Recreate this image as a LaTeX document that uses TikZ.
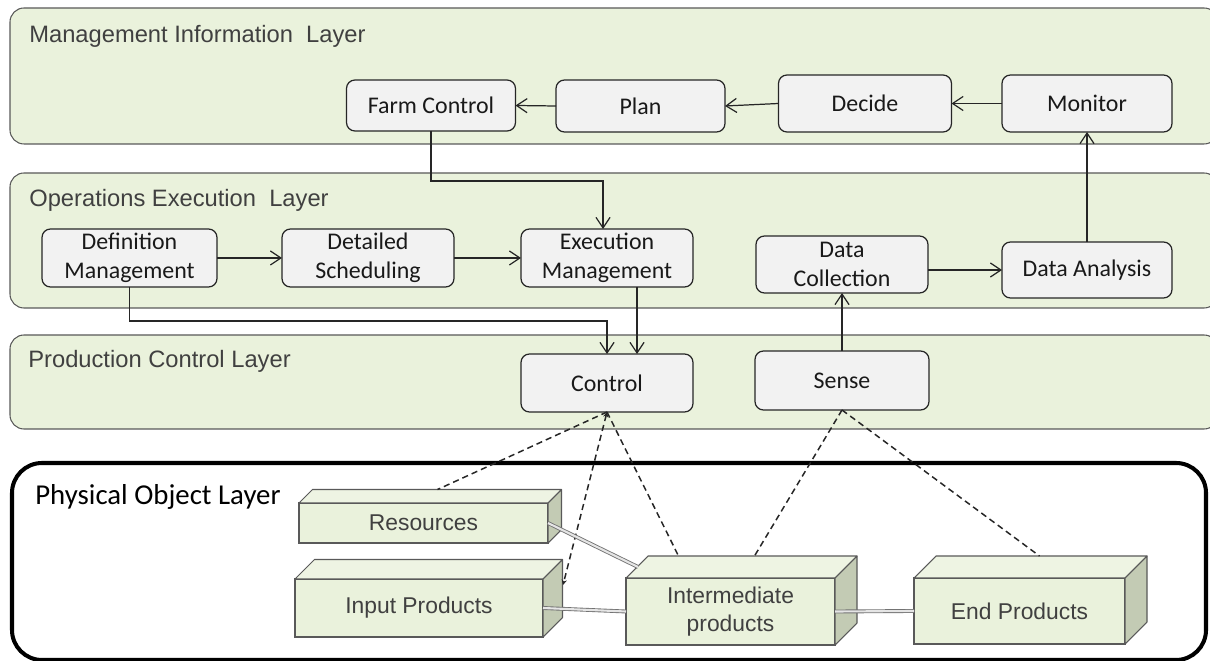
\documentclass[tikz,border=0pt]{standalone}
\usepackage{fontspec}
\setmainfont{Liberation Sans}
\newfontfamily\calibri{Carlito}
\usetikzlibrary{arrows.meta,calc}
\definecolor{layergreen}{HTML}{EAF2DC}
\definecolor{nodegray}{HTML}{F2F2F2}
\definecolor{edgegray}{HTML}{595959}
\definecolor{txtgray}{HTML}{404040}
\definecolor{sidegreen}{HTML}{C3CBB4}
\definecolor{topgreen}{HTML}{EEF4E3}
\newcommand\drawcuboid[7]{%
  \node[cubefront, sz={#4}{#5}] (#1) at (#2,#3) {#7};
  \filldraw[cubetop] (#1.north west) -- ++(#6,-#6) -- ([shift={(#6,-#6)}]#1.north east) -- (#1.north east) -- cycle;
  \filldraw[cubeside] (#1.north east) -- ++(#6,-#6) -- ([shift={(#6,-#6)}]#1.south east) -- (#1.south east) -- cycle;
}
\begin{document}
\begin{tikzpicture}[x=0.02cm,y=-0.02cm,
  sz/.style 2 args={minimum width=#1*0.02cm, minimum height=#2*0.02cm},
  layer/.style={draw=edgegray, fill=layergreen, line width=0.6pt, rounded corners=0.28cm},
  layerlabel/.style={anchor=base west, text=txtgray, inner sep=0, font=\fontsize{13.5}{16}\selectfont},
  proc/.style={draw=black!85, fill=nodegray, line width=0.7pt, rounded corners=0.17cm,
    font=\calibri\fontsize{13.6}{16.4}\selectfont, align=center, inner sep=0, outer sep=0, text=black!90},
  flow/.style={draw=black!85, line width=0.7pt, -{Straight Barb[length=6pt,width=8pt]}},
  dashline/.style={draw=black!85, line width=0.85pt, dash pattern=on 3.5pt off 2.3pt},
  cubefront/.style={draw=edgegray, fill=layergreen, line width=0.6pt, inner sep=0, outer sep=0,
    text=txtgray, align=center, font=\fontsize{13}{16}\selectfont},
  cubetop/.style={draw=edgegray, fill=topgreen, line width=0.6pt, line join=round},
  cubeside/.style={draw=edgegray, fill=sidegreen, line width=0.6pt, line join=round},
  dbl/.style={draw=black!55, double=white!90!black, line width=0.5pt, double distance=1.2pt}
]
\useasboundingbox (0,0) rectangle (1210,661);
\clip (0,0) rectangle (1210,661);

% layers
\draw[layer] (10,8) rectangle (1218,144);
\draw[layer] (10,173) rectangle (1218,308);
\draw[layer] (10,335) rectangle (1218,429);
\draw[line width=2.3pt, rounded corners=0.6cm] (12,463) rectangle (1206,660);

\node[layerlabel] (l1) at (29,43) {Management Information\ \ Layer};
\node[layerlabel] (l2) at (29,207) {Operations Execution\ \ Layer};
\node[layerlabel] (l3) at (28,368) {Production Control Layer};
\node[anchor=base west, inner sep=0, font=\calibri\fontsize{16.4}{19}\selectfont] (l4) at (35,505) {Physical Object Layer};

% management nodes
\node[proc, sz={169}{51}] (farm) at (431,105.5) {Farm Control};
\node[proc, sz={169}{52}] (plan) at (640.5,106) {Plan};
\node[proc, sz={173}{57}] (decide) at (865,103.5) {Decide};
\node[proc, sz={170}{57}] (monitor) at (1087,103.5) {Monitor};

% operations nodes
\node[proc, sz={175}{58}] (defm) at (129.5,258) {Definition\\Management};
\node[proc, sz={172}{58}] (sched) at (368,258) {Detailed\\Scheduling};
\node[proc, sz={172}{58}] (exec) at (607,258) {Execution\\Management};
\node[proc, sz={172}{57}] (dcoll) at (842,264.5) {Data\\Collection};
\node[proc, sz={170}{56}] (dana) at (1087,270) {Data Analysis};

% production control nodes
\node[proc, sz={172}{58}] (control) at (607,383) {Control};
\node[proc, sz={174}{59}] (sense) at (842,380.5) {Sense};

% flows
\draw[flow] (monitor.west) -- (decide.east);
\draw[flow] (decide.west) -- (plan.east);
\draw[flow] (plan.west) -- (farm.east);
\coordinate (fc1) at (431,181);
\coordinate (exn) at ($(exec.north)+(-4,0)$);
\draw[flow] (farm.south) -- (farm.south |- fc1) -| (exn);
\draw[flow] (defm.east) -- (sched.west);
\draw[flow] (sched.east) -- (exec.west);
\coordinate (dc1) at (130,321);
\draw[flow] (defm.south) -- (defm.south |- dc1) -| (control.north);
\draw[flow] ($(exec.south)+(30,0)$) -- ($(control.north)+(30,0)$);
\draw[flow] (dcoll.east |- dana.west) -- (dana.west);
\draw[flow] (dana.north) -- (monitor.south);
\draw[flow] (sense.north) -- (dcoll.south);

% physical objects
\drawcuboid{res}{423.5}{523}{249}{40}{13.5}{Resources}
\drawcuboid{inp}{419}{608}{248}{58}{19.5}{Input Products}
\drawcuboid{inter}{730.5}{611.5}{209}{67}{22}{Intermediate\\products}
\drawcuboid{endp}{1019.5}{611}{211}{66}{22}{End Products}

% dashed associations
\coordinate (rtop) at ($(res.north)+(14,-13.5)$);
\coordinate (itop1) at ($(inter.north)+(-52,-22)$);
\coordinate (itop2) at ($(inter.north)+(24,-22)$);
\coordinate (etop) at ($(endp.north)+(20,-22)$);
\coordinate (inpe) at ($(inp.north east)+(20,6)$);
\draw[dashline] (control.south) -- (rtop);
\draw[dashline, {Stealth[length=3pt,width=3pt]}-{Stealth[length=3pt,width=3pt]}] (control.south) -- (inpe);
\draw[dashline] (control.south) -- (itop1);
\draw[dashline] (sense.south) -- (itop2);
\draw[dashline] (sense.south) -- (etop);

% material links
\coordinate (ilink) at ($(inter.north west)+(12,-11)$);
\draw[dbl] (res.east) -- (ilink);
\draw[dbl] (inp.east) -- (inter.west);
\draw[dbl] (inter.east) -- (endp.west);
\end{tikzpicture}
\end{document}
